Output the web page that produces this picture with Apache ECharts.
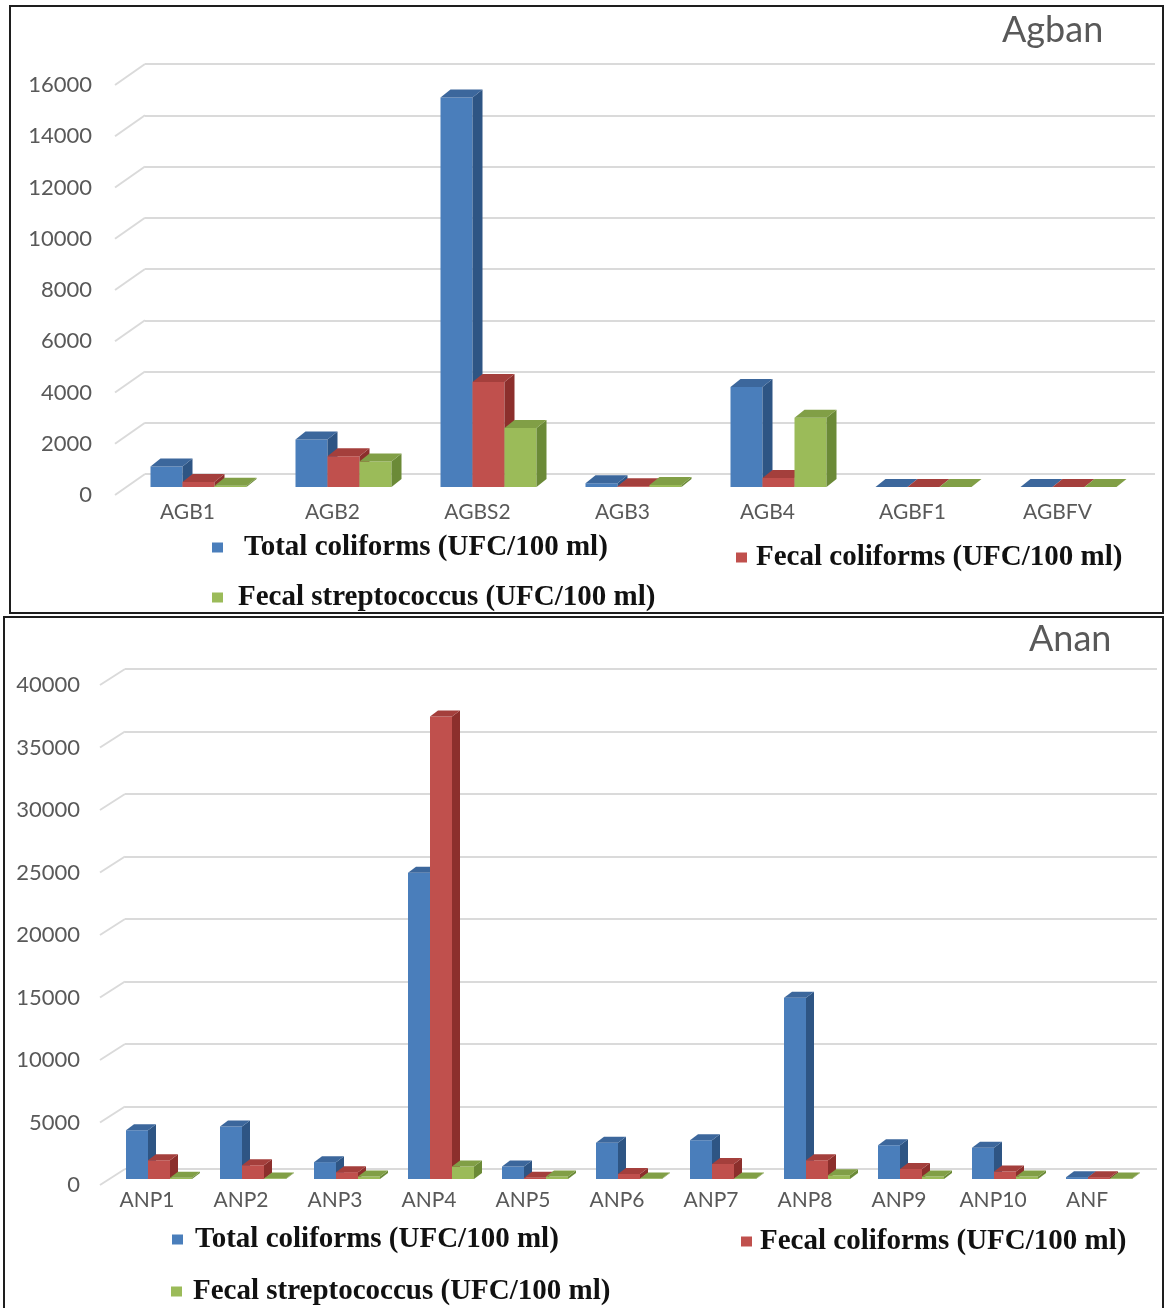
<!DOCTYPE html>
<html>
<head>
<meta charset="utf-8">
<title>Agban / Anan coliforms</title>
<script src="https://cdn.jsdelivr.net/npm/echarts@6/dist/echarts.min.js"></script>
<style>
  html, body { margin: 0; padding: 0; background: #fff; }
  #chart { width: 1164px; height: 1308px; }
</style>
</head>
<body>
<div id="chart"></div>
<script>
  // --- data ---
  const seriesNames = ['Total coliforms (UFC/100 ml)', 'Fecal coliforms (UFC/100 ml)', 'Fecal streptococcus (UFC/100 ml)'];

  const agbanCats = ['AGB1', 'AGB2', 'AGBS2', 'AGB3', 'AGB4', 'AGBF1', 'AGBFV'];
  const agbanTotal = [800, 1850, 15200, 150, 3900, 0, 0];
  const agbanFecal = [200, 1200, 4100, 30, 350, 0, 0];
  const agbanStrep = [50, 1000, 2300, 80, 2700, 0, 0];
  const agbanTicks = [0, 2000, 4000, 6000, 8000, 10000, 12000, 14000, 16000];

  const ananCats = ['ANP1', 'ANP2', 'ANP3', 'ANP4', 'ANP5', 'ANP6', 'ANP7', 'ANP8', 'ANP9', 'ANP10', 'ANF'];
  const ananTotal = [3900, 4200, 1350, 24500, 1000, 2900, 3100, 14500, 2700, 2500, 150];
  const ananFecal = [1500, 1100, 550, 37000, 100, 400, 1200, 1500, 800, 600, 150];
  const ananStrep = [100, 50, 200, 1000, 200, 50, 50, 300, 200, 200, 50];
  const ananTicks = [0, 5000, 10000, 15000, 20000, 25000, 30000, 35000, 40000];

  // excel-like 3d colours: front / side / top
  const palette = [
    { front: '#4A7EBB', side: '#2E5584', top: '#3C679C' },
    { front: '#C0504D', side: '#8C2F2C', top: '#A43F3C' },
    { front: '#9BBB59', side: '#6B8A37', top: '#819F46' }
  ];

  const gridColor = '#DADADA';
  const labelColor = '#595959';
  const sansFont = 'Lato, "Open Sans", sans-serif';
  const serifFont = '"Liberation Serif", "DejaVu Serif", serif';

  // geometry of each panel (front plane, back wall offset, bar depth)
  const geoTop = { bw: 32, sd: 10, td: 8, dx: 11, dy: -8, wdx: 30, wdy: -21 };
  const geoBot = { bw: 22, sd: 8, td: 6, dx: 12, dy: -6, wdx: 25, wdy: -16 };

  function barRenderer(k, g) {
    return function (params, api) {
      const i = api.value(0);
      const v = api.value(1);
      const top = api.coord([i, v]);
      const base = api.coord([i, 0]);
      const x0 = top[0] - 1.5 * g.bw + k * g.bw + g.dx;
      const yT = top[1] + g.dy;
      const yB = base[1] + g.dy;
      const c = palette[k];
      return {
        type: 'group',
        children: [
          { type: 'rect', shape: { x: x0, y: yT, width: g.bw, height: yB - yT }, style: { fill: c.front } },
          {
            type: 'polygon',
            shape: { points: [[x0 + g.bw, yT], [x0 + g.bw + g.sd, yT - g.td], [x0 + g.bw + g.sd, yB - g.td], [x0 + g.bw, yB]] },
            style: { fill: c.side }
          },
          {
            type: 'polygon',
            shape: { points: [[x0, yT], [x0 + g.sd, yT - g.td], [x0 + g.bw + g.sd, yT - g.td], [x0 + g.bw, yT]] },
            style: { fill: c.top }
          }
        ]
      };
    };
  }

  // the slanted lines joining the y labels to the back wall
  function diagRenderer(g) {
    return function (params, api) {
      const p = api.coord([0, api.value(1)]);
      const x0 = params.coordSys.x;
      return {
        type: 'line',
        shape: { x1: x0, y1: p[1], x2: x0 + g.wdx, y2: p[1] + g.wdy },
        style: { stroke: gridColor, lineWidth: 2 }
      };
    };
  }

  function barSeries(values, k, axisIdx, g) {
    return {
      name: seriesNames[k],
      type: 'custom',
      xAxisIndex: axisIdx,
      yAxisIndex: axisIdx,
      itemStyle: { color: palette[k].front },
      renderItem: barRenderer(k, g),
      encode: { x: 0, y: 1 },
      data: values.map((v, i) => [i, v]),
      z: 3
    };
  }

  function legendItem(k, left, top, pad) {
    return {
      data: [seriesNames[k]],
      left: left,
      top: top,
      padding: 0,
      icon: 'rect',
      itemWidth: 11,
      itemHeight: 10,
      selectedMode: false,
      textStyle: { fontFamily: serifFont, fontWeight: 'bold', fontSize: 29, color: '#111', padding: [0, 0, 0, pad] }
    };
  }

  const hiddenCat = (grid, cats) => ({ gridIndex: grid, type: 'category', data: cats, show: false });
  const frontCat = (grid, cats, margin) => ({
    gridIndex: grid, type: 'category', data: cats,
    axisLine: { show: false }, axisTick: { show: false },
    axisLabel: { margin: margin, color: labelColor, fontFamily: sansFont, fontSize: 21 }
  });
  const wallVal = (grid, max, step) => ({
    gridIndex: grid, type: 'value', min: 0, max: max, interval: step,
    axisLine: { show: false }, axisTick: { show: false }, axisLabel: { show: false },
    splitLine: { show: true, lineStyle: { color: gridColor, width: 2 } }
  });
  const frontVal = (grid, max, step, margin) => ({
    gridIndex: grid, type: 'value', min: 0, max: max, interval: step,
    axisLine: { show: false }, axisTick: { show: false }, splitLine: { show: false },
    axisLabel: { margin: margin, color: labelColor, fontFamily: sansFont, fontSize: 22, formatter: (v) => String(v) }
  });

  const myChart = echarts.init(document.getElementById('chart'));

  const option = {
    animation: false,
    backgroundColor: '#fff',
    title: [
      { text: 'Agban', left: 1002, top: 12, padding: 0, textStyle: { fontFamily: sansFont, fontWeight: 'normal', fontSize: 36, color: labelColor } },
      { text: 'Anan', left: 1029, top: 621, padding: 0, textStyle: { fontFamily: sansFont, fontWeight: 'normal', fontSize: 36, color: labelColor } }
    ],
    grid: [
      { left: 145, top: 64, width: 1010, height: 410 },   // agban back wall
      { left: 115, top: 85, width: 1015, height: 410 },   // agban front
      { left: 125, top: 669, width: 1032, height: 500 },  // anan back wall
      { left: 100, top: 685, width: 1034, height: 500 }   // anan front
    ],
    xAxis: [
      hiddenCat(0, agbanCats),
      frontCat(1, agbanCats, 7),
      hiddenCat(2, ananCats),
      frontCat(3, ananCats, 5)
    ],
    yAxis: [
      wallVal(0, 16000, 2000),
      frontVal(1, 16000, 2000, 23),
      wallVal(2, 40000, 5000),
      frontVal(3, 40000, 5000, 20)
    ],
    legend: [
      legendItem(0, 212, 533, 16),
      legendItem(1, 736, 543, 4),
      legendItem(2, 212, 583, 10),
      legendItem(0, 172, 1225, 7),
      legendItem(1, 741, 1227, 3),
      legendItem(2, 171, 1277, 6)
    ],
    graphic: [
      { type: 'rect', shape: { x: 10, y: 6, width: 1153, height: 607 }, style: { fill: 'none', stroke: '#1e1e1e', lineWidth: 2 }, silent: true },
      { type: 'rect', shape: { x: 4, y: 617, width: 1159, height: 720 }, style: { fill: 'none', stroke: '#1e1e1e', lineWidth: 2 }, silent: true }
    ],
    series: [
      {
        type: 'custom', xAxisIndex: 1, yAxisIndex: 1, silent: true,
        renderItem: diagRenderer(geoTop), encode: { x: 0, y: 1 },
        data: agbanTicks.map(v => [0, v]), z: 1
      },
      barSeries(agbanTotal, 0, 1, geoTop),
      barSeries(agbanFecal, 1, 1, geoTop),
      barSeries(agbanStrep, 2, 1, geoTop),
      {
        type: 'custom', xAxisIndex: 3, yAxisIndex: 3, silent: true,
        renderItem: diagRenderer(geoBot), encode: { x: 0, y: 1 },
        data: ananTicks.map(v => [0, v]), z: 1
      },
      barSeries(ananTotal, 0, 3, geoBot),
      barSeries(ananFecal, 1, 3, geoBot),
      barSeries(ananStrep, 2, 3, geoBot)
    ]
  };

  option && myChart.setOption(option);
</script>
</body>
</html>
